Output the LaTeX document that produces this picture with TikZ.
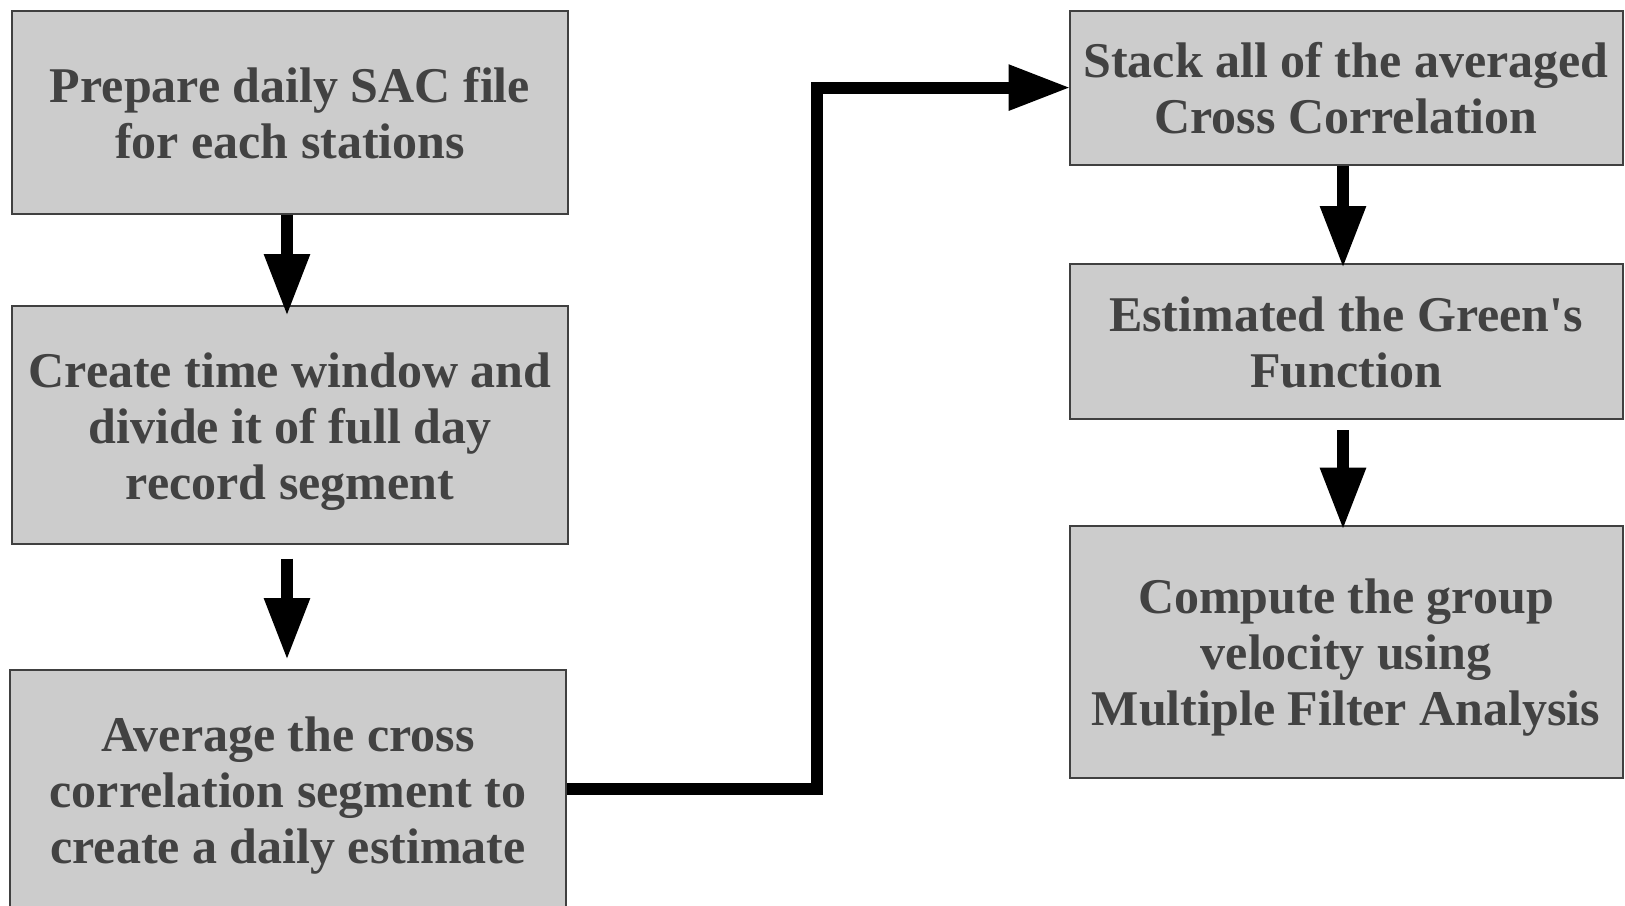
\documentclass[tikz,border=0pt]{standalone}
\usepackage{fontspec}
\setmainfont{Liberation Serif}
\usetikzlibrary{arrows.meta}
\definecolor{boxfill}{RGB}{204,204,204}
\definecolor{boxline}{RGB}{64,64,64}
\definecolor{txt}{RGB}{66,66,66}
\newcommand\boxtext[2]{\raisebox{#1}[\height][\depth]{\begin{tabular}{@{}c@{}}#2\end{tabular}}}
\tikzset{
  stepbox/.style={draw=boxline, line width=2pt, fill=boxfill, inner sep=0pt,
    align=center, text=txt, font=\fontsize{50}{56}\selectfont\bfseries},
  flow/.style={line width=12pt, line join=miter, draw=black,
    -{Triangle[width=43pt,length=62pt]}}
}
\begin{document}
\begin{tikzpicture}[x=1pt,y=-1pt]
\clip (0,0) rectangle (1625,905);
\fill[white] (0,0) rectangle (1625,905);
\node[stepbox, minimum width=556pt, minimum height=203pt] (b1) at (290,112)
  {\boxtext{-7pt}{Prepare daily SAC file\\for each stations}};
\node[stepbox, minimum width=556pt, minimum height=238pt] (b2) at (290,425)
  {\boxtext{-7pt}{Create time window and\\divide it of full day\\record segment}};
\node[stepbox, minimum width=556pt, minimum height=242pt] (b3) at (288,791)
  {\boxtext{-5pt}{Average the cross\\correlation segment to\\create a daily estimate}};
\node[stepbox, minimum width=553pt, minimum height=154pt] (r1) at (1346,87.6)
  {\boxtext{-7pt}{Stack all of the averaged\\Cross Correlation}};
\node[stepbox, minimum width=553pt, minimum height=155pt] (r2) at (1346,341.5)
  {\boxtext{-7pt}{Estimated the Green\textquotesingle s\\Function}};
\node[stepbox, minimum width=553pt, minimum height=252pt] (r3) at (1346,651.7)
  {\boxtext{-7pt}{Compute the group\\velocity using\\Multiple Filter Analysis}};
\draw[flow] ([xshift=-3pt]b1.south) -- ([xshift=-3pt,yshift=-11pt]b2.north);
\draw[flow] ([xshift=-3pt,yshift=-13.5pt]b2.south) -- ([xshift=-1pt,yshift=9pt]b3.north);
\draw[flow] ([xshift=-3pt]r1.south) -- ([xshift=-3pt,yshift=-5pt]r2.north);
\draw[flow] ([xshift=-3pt,yshift=-10pt]r2.south) -- ([xshift=-3pt,yshift=-5pt]r3.north);
\draw[flow] ([yshift=2pt]b3.east) -- ++(250,0) |- ([xshift=2pt]r1.west);
\end{tikzpicture}
\end{document}
